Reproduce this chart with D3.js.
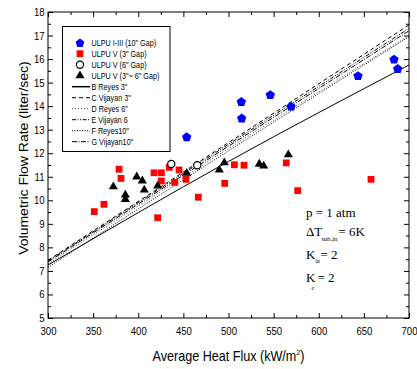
<!DOCTYPE html>
<html>
<head>
<meta charset="utf-8">
<script src="https://cdn.jsdelivr.net/npm/d3@7"></script>
<style>
  body { margin: 0; background: #fff; }
  svg { display: block; }
  text { font-family: "Liberation Sans", Arial, sans-serif; fill: #000; }
  .serif { font-family: "Liberation Serif", "Times New Roman", serif; }
</style>
</head>
<body>
<svg id="chart" width="417" height="369"></svg>
<script>
// ULPU I-III, 10" gap
const ulpu10Flux = [453.7, 514.2, 514.6, 546.3, 569.3, 643.5, 683.4, 687.5];
const ulpu10Flow = [12.70, 14.20, 13.50, 14.49, 14.00, 15.30, 16.00, 15.60];

// ULPU V, 3" gap
const ulpu3Flux = [351.3, 362.0, 378.7, 380.9, 417.5, 425.6, 425.6, 421.5, 434.4, 445.2,
                   440.4, 452.9, 466.6, 495.8, 506.5, 517.2, 564.0, 576.7, 657.9];
const ulpu3Flow = [9.52, 9.83, 11.32, 10.93, 11.17, 11.17, 10.82, 9.26, 11.40, 11.29,
                   10.76, 10.89, 10.13, 10.72, 11.51, 11.49, 11.59, 10.41, 10.89];

// ULPU V, 6" gap
const ulpu6Flux = [436.6, 465.4];
const ulpu6Flow = [11.54, 11.49];

// ULPU V, 3"~6" gap
const ulpu36Flux = [372.4, 385.7, 385.7, 398.3, 404.5, 406.7, 421.5, 453.7, 489.8, 495.4,
                    534.1, 539.0, 566.3];
const ulpu36Flow = [10.58, 10.23, 10.04, 11.00, 10.83, 10.44, 10.61, 11.15, 11.29, 11.60,
                    11.54, 11.46, 11.94];

// Correlation curves, sampled at these heat fluxes
const curveFlux = [300, 500, 700];
const reyes3    = [7.25, 11.65, 15.75];
const vijayan3  = [7.45, 12.45, 17.45];
const reyes6    = [7.30, 12.20, 17.00];
const vijayan6  = [7.42, 12.38, 17.30];
const reyes10   = [7.15, 12.10, 16.95];
const vijayan10 = [7.38, 12.30, 17.20];

const curveNames = ['B Reyes 3"', 'C Vijayan 3"', 'D Reyes 6"', 'E Vijayan 6', 'F Reyes10"', 'G Vijayan10"'];
const pointNames = ['ULPU I-III (10" Gap)', 'ULPU V (3" Gap)', 'ULPU V (6" Gap)', 'ULPU V (3"~ 6" Gap)'];

const xTicks = [300, 350, 400, 450, 500, 550, 600, 650, 700];
const yTicks = [5, 6, 7, 8, 9, 10, 11, 12, 13, 14, 15, 16, 17, 18];

const SX = 0.87; // horizontal squeeze used on all text

const svg = d3.select('#chart');
const plotL = 48, plotR = 409, plotT = 12, plotB = 318;
const x = d3.scaleLinear().domain([300, 700]).range([plotL, plotR]);
const y = d3.scaleLinear().domain([5, 18]).range([plotB, plotT]);

// clip for curves
svg.append('defs').append('clipPath').attr('id', 'plotClip')
  .append('rect').attr('x', plotL).attr('y', plotT).attr('width', plotR - plotL).attr('height', plotB - plotT);

// ---- axes (inward ticks on all four sides) ----
const minorX = d3.range(325, 700, 50);
const minorY = d3.range(5.5, 18, 1);

function styleAxis(g) {
  g.select('.domain').remove();
  g.selectAll('line').attr('stroke', '#000').attr('stroke-width', 1);
}

svg.append('g').attr('transform', `translate(0,${plotB})`)
  .call(d3.axisBottom(x).tickValues(xTicks).tickSizeInner(-5).tickSizeOuter(0).tickPadding(9).tickFormat(d3.format('d')))
  .call(styleAxis)
  .call(g => g.selectAll('text').attr('font-size', 11).attr('font-family', '"Liberation Sans", Arial, sans-serif')
      .attr('transform', `scale(${SX},1)`));
svg.append('g').attr('transform', `translate(0,${plotB})`)
  .call(d3.axisBottom(x).tickValues(minorX).tickSizeInner(-3).tickSizeOuter(0).tickFormat(''))
  .call(styleAxis);
svg.append('g').attr('transform', `translate(0,${plotT})`)
  .call(d3.axisTop(x).tickValues(xTicks).tickSizeInner(-5).tickSizeOuter(0).tickFormat(''))
  .call(styleAxis);
svg.append('g').attr('transform', `translate(0,${plotT})`)
  .call(d3.axisTop(x).tickValues(minorX).tickSizeInner(-3).tickSizeOuter(0).tickFormat(''))
  .call(styleAxis);

svg.append('g').attr('transform', `translate(${plotL},0)`)
  .call(d3.axisLeft(y).tickValues(yTicks).tickSizeInner(-5).tickSizeOuter(0).tickPadding(4).tickFormat(d3.format('d')))
  .call(styleAxis)
  .call(g => g.selectAll('text').attr('font-size', 11).attr('font-family', '"Liberation Sans", Arial, sans-serif')
      .attr('transform', `scale(${SX},1)`));
svg.append('g').attr('transform', `translate(${plotL},0)`)
  .call(d3.axisLeft(y).tickValues(minorY).tickSizeInner(-3).tickSizeOuter(0).tickFormat(''))
  .call(styleAxis);
svg.append('g').attr('transform', `translate(${plotR},0)`)
  .call(d3.axisRight(y).tickValues(yTicks).tickSizeInner(-5).tickSizeOuter(0).tickFormat(''))
  .call(styleAxis);
svg.append('g').attr('transform', `translate(${plotR},0)`)
  .call(d3.axisRight(y).tickValues(minorY).tickSizeInner(-3).tickSizeOuter(0).tickFormat(''))
  .call(styleAxis);

// ---- correlation curves ----
const curveStyles = [
  { data: reyes3,    dash: null,                color: '#000' },
  { data: vijayan3,  dash: '4,3',               color: '#000' },
  { data: reyes6,    dash: '1,2',               color: '#444' },
  { data: vijayan6,  dash: '4,1.5,1,1.5,1,1.5', color: '#000' },
  { data: reyes10,   dash: '1,1.5',             color: '#000' },
  { data: vijayan10, dash: '5,1.5,1,1.5',       color: '#000' }
];
const line = d3.line().x(d => x(d[0])).y(d => y(d[1])).curve(d3.curveNatural);
const curveG = svg.append('g').attr('clip-path', 'url(#plotClip)');
curveStyles.forEach(c => {
  curveG.append('path')
    .attr('d', line(curveFlux.map((f, i) => [f, c.data[i]])))
    .attr('fill', 'none').attr('stroke', c.color).attr('stroke-width', 1)
    .attr('stroke-dasharray', c.dash);
});

// ---- markers ----
function pentagon(r) {
  const pts = d3.range(5).map(i => {
    const a = -Math.PI / 2 + i * 2 * Math.PI / 5;
    return [r * Math.cos(a), r * Math.sin(a) + r * 0.1];
  });
  return 'M' + pts.map(p => p.join(',')).join('L') + 'Z';
}
const squarePath = d3.symbol(d3.symbolSquare, 46)();
const trianglePath = d3.symbol(d3.symbolTriangle, 36)();

const markerDefs = [
  { flux: ulpu10Flux, flow: ulpu10Flow, path: pentagon(4.9), fill: '#0000ff' },
  { flux: ulpu3Flux,  flow: ulpu3Flow,  path: squarePath,    fill: '#ff0000' },
  { flux: ulpu36Flux, flow: ulpu36Flow, path: trianglePath,  fill: '#000' },
  { flux: ulpu6Flux,  flow: ulpu6Flow,  circle: true }
];
markerDefs.forEach(m => {
  const g = svg.append('g');
  const pts = m.flux.map((f, i) => [f, m.flow[i]]);
  if (m.circle) {
    g.selectAll('circle').data(pts).join('circle')
      .attr('cx', d => x(d[0])).attr('cy', d => y(d[1])).attr('r', 3.6)
      .attr('fill', '#fff').attr('stroke', '#000').attr('stroke-width', 1.2);
  } else {
    g.selectAll('path').data(pts).join('path')
      .attr('d', m.path)
      .attr('transform', d => `translate(${x(d[0])},${y(d[1])})`)
      .attr('fill', m.fill);
  }
});

// frame
svg.append('rect').attr('x', plotL).attr('y', plotT).attr('width', plotR - plotL).attr('height', plotB - plotT)
  .attr('fill', 'none').attr('stroke', '#000').attr('stroke-width', 1);

// ---- legend ----
const leg = svg.append('g');
leg.append('rect').attr('x', 62.5).attr('y', 26.5).attr('width', 107.5).attr('height', 125)
  .attr('fill', '#fff').attr('stroke', '#000').attr('stroke-width', 1);
const rowY = i => 42.7 + i * 11;
const symX = 80, textX = 91.5;
const legendSymbols = [
  sel => sel.append('path').attr('d', pentagon(4.6)).attr('fill', '#0000ff'),
  sel => sel.append('path').attr('d', squarePath).attr('fill', '#ff0000'),
  sel => sel.append('circle').attr('r', 3.6).attr('fill', '#fff').attr('stroke', '#000').attr('stroke-width', 1.2),
  sel => sel.append('path').attr('d', trianglePath).attr('fill', '#000')
];
pointNames.forEach((name, i) => {
  legendSymbols[i](leg.append('g').attr('transform', `translate(${symX},${rowY(i)})`));
  leg.append('text').attr('transform', `translate(${textX},${rowY(i) + 3}) scale(${SX},1)`)
    .attr('font-size', 8.3).text(name);
});
curveNames.forEach((name, j) => {
  const i = j + 4, c = curveStyles[j];
  leg.append('line').attr('x1', 72).attr('x2', 90).attr('y1', rowY(i)).attr('y2', rowY(i))
    .attr('stroke', c.color).attr('stroke-width', j === 0 ? 1.5 : 1).attr('stroke-dasharray', c.dash);
  leg.append('text').attr('transform', `translate(${textX},${rowY(i) + 3}) scale(${SX},1)`)
    .attr('font-size', 8.3).text(name);
});

// ---- axis titles ----
const xt = svg.append('text').attr('transform', `translate(228.5,360.7) scale(0.9,1)`)
  .attr('text-anchor', 'middle').attr('font-size', 14);
xt.append('tspan').text('Average Heat Flux (kW/m');
xt.append('tspan').attr('font-size', 8).attr('dy', -6).text('2');
xt.append('tspan').attr('dy', 6).text(')');

svg.append('text').attr('transform', `translate(28,158) scale(${SX},1) rotate(-90)`)
  .attr('text-anchor', 'middle').attr('font-size', 14)
  .text('Volumetric Flow Rate (liter/sec)');

// ---- operating conditions ----
const ann = svg.append('g');
function serif(xp, yp, size, str) {
  ann.append('text').attr('class', 'serif').attr('x', xp).attr('y', yp).attr('font-size', size).text(str);
}
serif(306, 217, 13, 'p = 1 atm');
serif(306, 236, 13, '\u0394T');
serif(321.5, 241, 6.5, 'sub,in');
serif(338.5, 236, 13, '= 6K');
serif(306, 258.5, 13, 'K');
serif(315.5, 263, 5.5, 'in');
serif(320.5, 258.5, 13, '= 2');
serif(306, 282, 13, 'K');
serif(311.5, 290, 7, 'c');
serif(317.5, 282, 13, '= 2');
</script>
</body>
</html>
